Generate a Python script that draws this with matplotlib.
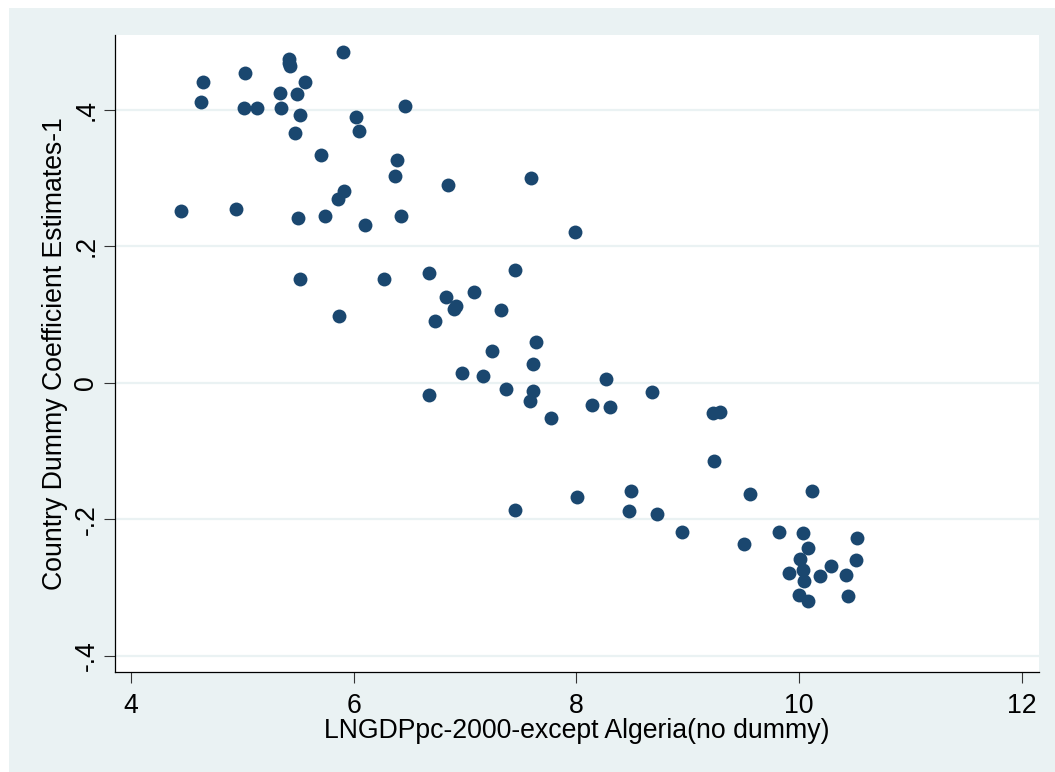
import matplotlib
matplotlib.use("Agg")
import matplotlib.pyplot as plt
from matplotlib.patches import Rectangle

plt.rcParams['font.family'] = ['Liberation Sans', 'DejaVu Sans']

x_vals = [4.649, 4.626, 5.023, 5.014, 5.128, 5.418, 5.418, 5.430, 5.562, 5.338,
          5.496, 5.346, 5.523, 5.472, 5.903, 6.020, 6.047, 5.706, 6.466, 6.390,
          6.373, 5.912, 5.864, 4.449, 4.945, 5.505, 5.744, 6.103, 6.430, 7.597,
          6.852, 7.986, 5.517, 6.271, 6.678, 5.873, 7.447, 6.828, 7.079, 6.917,
          6.899, 7.321, 6.735, 7.636, 7.247, 7.611, 6.974, 7.162, 7.366, 7.611,
          7.588, 6.675, 7.773, 8.145, 8.306, 8.270, 8.683, 9.227, 9.294, 9.238,
          8.495, 8.006, 7.450, 8.470, 8.724, 8.952, 9.563, 10.116, 9.505, 9.823,
          10.039, 10.086, 10.014, 10.523, 10.517, 10.286, 10.041, 9.909, 10.044, 10.194,
          10.427, 10.005, 10.080, 10.442]
y_vals = [0.441, 0.411, 0.454, 0.402, 0.402, 0.475, 0.469, 0.464, 0.440, 0.424,
          0.423, 0.402, 0.393, 0.366, 0.484, 0.389, 0.369, 0.333, 0.406, 0.327,
          0.303, 0.281, 0.269, 0.252, 0.254, 0.242, 0.245, 0.231, 0.245, 0.300,
          0.289, 0.221, 0.152, 0.152, 0.161, 0.098, 0.165, 0.125, 0.133, 0.113,
          0.108, 0.107, 0.091, 0.060, 0.047, 0.028, 0.014, 0.010, -0.009, -0.012,
          -0.027, -0.018, -0.052, -0.033, -0.035, 0.005, -0.013, -0.045, -0.043, -0.115,
          -0.158, -0.168, -0.186, -0.188, -0.193, -0.218, -0.163, -0.159, -0.237, -0.219,
          -0.220, -0.242, -0.258, -0.227, -0.260, -0.269, -0.274, -0.279, -0.290, -0.283,
          -0.282, -0.311, -0.320, -0.312]

x_ticks = [4, 6, 8, 10, 12]
x_ticklabels = ['4', '6', '8', '10', '12']
y_ticks = [-0.4, -0.2, 0, 0.2, 0.4]
y_ticklabels = ['-.4', '-.2', '0', '.2', '.4']
x_label = 'LNGDPpc-2000-except Algeria(no dummy)'
y_label = 'Country Dummy Coefficient Estimates-1'

FS = 19.2
W, H = 1055, 772
fig = plt.figure(figsize=(W / 100, H / 100), dpi=100)
fig.patch.set_facecolor('white')
fig.patches.append(Rectangle((9 / W, 0), 1 - 9 / W, 1 - 8 / H, transform=fig.transFigure,
                             facecolor='#EAF2F3', edgecolor='none', zorder=-10))

left, right, top, bottom = 114.7, 1039, 35, 672.3
ax = fig.add_axes([left / W, 1 - bottom / H, (right - left) / W, (bottom - top) / H])
ax.set_facecolor('white')

ax.scatter(x_vals, y_vals, s=100, color='#1A476F', linewidths=0, zorder=3)

ax.set_xlim(3.854, 12.157)
ax.set_ylim(-0.4243, 0.5095)
ax.set_xticks(x_ticks)
ax.set_xticklabels(x_ticklabels)
ax.set_yticks(y_ticks)
ax.set_yticklabels(y_ticklabels, rotation=90, va='center')

for y in y_ticks:
    ax.axhline(y, color='#EAF2F3', lw=1.6, zorder=1)

for s in ['top', 'right']:
    ax.spines[s].set_visible(False)
for s in ['left', 'bottom']:
    ax.spines[s].set_color('#000000')
    ax.spines[s].set_linewidth(0.9)

ax.tick_params(axis='both', direction='out', length=8, width=0.8, color='#333333',
               labelsize=FS, labelcolor='black')
ax.tick_params(axis='x', pad=7)
ax.tick_params(axis='y', pad=3)

ax.set_xlabel(x_label, fontsize=FS)
ax.xaxis.set_label_coords(0.5, (bottom - 731) / (bottom - top))
ax.xaxis.label.set_va('center')
ax.set_ylabel(y_label, fontsize=FS)
ax.yaxis.set_label_coords((55 - left) / (right - left), (bottom - 354) / (bottom - top))
ax.yaxis.label.set_va('center')

fig.savefig('out.png', dpi=100, facecolor=fig.get_facecolor())
